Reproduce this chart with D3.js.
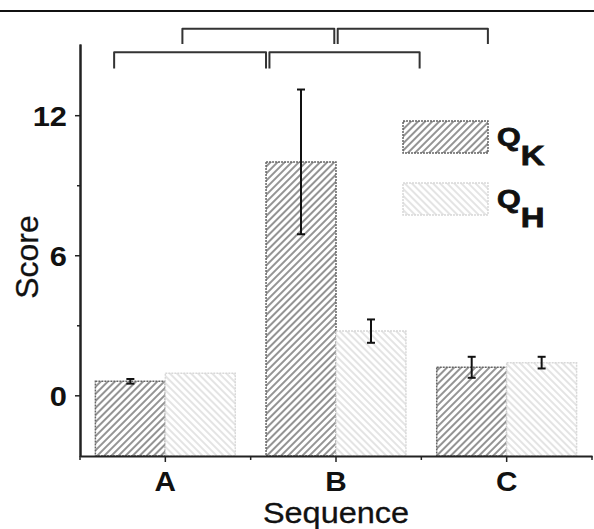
<!DOCTYPE html>
<html>
<head>
<meta charset="utf-8">
<script src="https://cdn.jsdelivr.net/npm/d3@7"></script>
<style>
  body { margin: 0; background: #fff; }
  text { font-family: "Liberation Sans", Arial, sans-serif; }
</style>
</head>
<body>
<div id="vizcontainer"></div>
<script>
const width = 594,
  height = 529;

// data
const categories = ['A', 'B', 'C'];
const seriesNames = ['K', 'H'];
const qkValues = [0.6, 10.0, 1.2];
const qkErrors = [0.1, 3.1, 0.45];
const qhValues = [0.95, 2.75, 1.4];
const qhErrors = [0, 0.5, 0.25];
const yTicks = [0, 6, 12];
const yMinorTicks = [3, 9];

// significance brackets, x in category index units, y in score units
const brackets = [
  { from: 0.10, to: 0.99, top: 15.7, end: 15.05 },
  { from: 1.01, to: 1.89, top: 15.7, end: 15.05 },
  { from: -0.30, to: 0.59, top: 14.7, end: 14.0 },
  { from: 0.61, to: 1.49, top: 14.7, end: 14.0 }
];

const margin = { left: 80, right: 2, top: 44, bottom: 73 };
const stretch = 1.1; // the figure's lettering is a bit wide

let viz = d3.select('#vizcontainer')
  .append('svg')
  .attr('width', width)
  .attr('height', height);

const defs = viz.append('defs');

function hatch(id, angle, color, w) {
  const p = defs.append('pattern')
    .attr('id', id)
    .attr('patternUnits', 'userSpaceOnUse')
    .attr('width', 5)
    .attr('height', 5)
    .attr('patternTransform', `rotate(${angle})`);
  p.append('rect').attr('width', 5).attr('height', 5).attr('fill', '#fff');
  p.append('line')
    .attr('x1', 1).attr('x2', 1).attr('y1', 0).attr('y2', 5)
    .attr('stroke', color).attr('stroke-width', w);
}
hatch('hk', 45, '#5a5a5a', 1.3);
hatch('hh', -45, '#d2d2d2', 1.2);

const styles = {
  K: { fill: 'url(#hk)', stroke: '#666', dash: '2,1' },
  H: { fill: 'url(#hh)', stroke: '#d8d8d8', dash: '2,1' }
};

const x = d3.scaleBand()
  .domain(categories)
  .range([margin.left, width - margin.right])
  .paddingInner(0)
  .paddingOuter(0);

const xs = d3.scaleBand()
  .domain(seriesNames)
  .range([0, x.bandwidth()])
  .paddingOuter(0.22)
  .paddingInner(0);

const xi = d3.scaleLinear()
  .domain([0, 2])
  .range([x('A') + x.bandwidth() / 2, x('C') + x.bandwidth() / 2]);

const y = d3.scaleLinear()
  .domain([-2.6, 15.05])
  .range([height - margin.bottom, margin.top]);

// top rule
viz.append('line')
  .attr('x1', 0).attr('x2', width)
  .attr('y1', 11).attr('y2', 11)
  .attr('stroke', '#111').attr('stroke-width', 2);

const rows = [];
categories.forEach((c, i) => {
  rows.push({ cat: c, s: 'K', v: qkValues[i], e: qkErrors[i] });
  rows.push({ cat: c, s: 'H', v: qhValues[i], e: qhErrors[i] });
});

// bars
viz.append('g')
  .selectAll('rect')
  .data(rows)
  .join('rect')
  .attr('x', d => x(d.cat) + xs(d.s))
  .attr('width', xs.bandwidth())
  .attr('y', d => y(d.v))
  .attr('height', d => y.range()[0] - y(d.v))
  .attr('fill', d => styles[d.s].fill)
  .attr('stroke', d => styles[d.s].stroke)
  .attr('stroke-dasharray', d => styles[d.s].dash)
  .attr('stroke-width', 1.5);

// error bars
const cx = d => x(d.cat) + xs(d.s) + xs.bandwidth() / 2;
const eg = viz.append('g')
  .selectAll('g')
  .data(rows.filter(d => d.e > 0))
  .join('g')
  .attr('stroke', '#111')
  .attr('stroke-width', 2);
eg.append('line')
  .attr('x1', cx)
  .attr('x2', cx)
  .attr('y1', d => y(d.v + d.e))
  .attr('y2', d => y(d.v - d.e));
[1, -1].forEach(sgn => {
  eg.append('line')
    .attr('x1', d => cx(d) - 4)
    .attr('x2', d => cx(d) + 4)
    .attr('y1', d => y(d.v + sgn * d.e))
    .attr('y2', d => y(d.v + sgn * d.e));
});

// axes
const yAxis = viz.append('g')
  .attr('transform', `translate(${margin.left},0)`)
  .call(d3.axisLeft(y).tickValues(yTicks).tickSize(5).tickSizeOuter(0).tickPadding(8));
viz.append('g')
  .attr('transform', `translate(${margin.left},0)`)
  .call(d3.axisLeft(y).tickValues(yMinorTicks).tickSize(3).tickFormat('').tickSizeOuter(0));

const xAxis = viz.append('g')
  .attr('transform', `translate(0,${y.range()[0]})`)
  .call(d3.axisBottom(x).tickSize(6).tickSizeOuter(0).tickPadding(10));
viz.append('g')
  .attr('transform', `translate(0,${y.range()[0]})`)
  .selectAll('line')
  .data(categories.map(c => x(c) + x.bandwidth()).concat([x('A')]))
  .join('line')
  .attr('x1', d => d).attr('x2', d => d)
  .attr('y1', 0).attr('y2', 4)
  .attr('stroke', '#222').attr('stroke-width', 1.5);

viz.selectAll('.domain').attr('stroke', '#222').attr('stroke-width', 2);
viz.selectAll('.tick line').attr('stroke', '#222').attr('stroke-width', 1.5);

yAxis.selectAll('text')
  .style('font-size', '28px')
  .style('font-weight', 'bold')
  .attr('fill', '#111')
  .attr('x', -13 / stretch)
  .attr('dy', '0.36em')
  .attr('transform', `scale(${stretch},1)`);
xAxis.selectAll('text')
  .style('font-size', '27px')
  .style('font-weight', 'bold')
  .attr('fill', '#111')
  .attr('transform', `scale(${stretch},1)`);

// axis titles
viz.append('text')
  .attr('transform', `translate(38,257) rotate(-90)`)
  .attr('text-anchor', 'middle')
  .style('font-size', '32px')
  .attr('fill', '#111')
  .attr('stroke', '#111')
  .attr('stroke-width', 0.3)
  .text('Score');

viz.append('text')
  .attr('transform', `translate(${x('B') + x.bandwidth() / 2},523) scale(1.12,1)`)
  .attr('text-anchor', 'middle')
  .style('font-size', '29px')
  .attr('fill', '#111')
  .attr('stroke', '#111')
  .attr('stroke-width', 0.3)
  .text('Sequence');

// brackets
viz.append('g')
  .selectAll('path')
  .data(brackets)
  .join('path')
  .attr('d', d => `M${xi(d.from)},${y(d.end)}V${y(d.top)}H${xi(d.to)}V${y(d.end)}`)
  .attr('fill', 'none')
  .attr('stroke', '#333')
  .attr('stroke-width', 2)
  .attr('stroke-linejoin', 'round');

// legend
const lg = viz.append('g')
  .selectAll('g')
  .data(seriesNames)
  .join('g')
  .attr('transform', (d, i) => `translate(403,${121 + i * 62})`);
lg.append('rect')
  .attr('width', 85)
  .attr('height', 32)
  .attr('fill', d => styles[d].fill)
  .attr('stroke', d => styles[d].stroke)
  .attr('stroke-dasharray', d => styles[d].dash)
  .attr('stroke-width', 1.5);
const lt = lg.append('text')
  .attr('transform', 'translate(94,25) scale(1.22,1)')
  .style('font-weight', 'bold')
  .attr('fill', '#111')
  .attr('stroke', '#111')
  .attr('stroke-width', 0.8);
lt.append('tspan').style('font-size', '25px').text('Q');
lt.append('tspan').style('font-size', '27px').attr('dy', 19).text(d => d);
</script>
</body>
</html>
